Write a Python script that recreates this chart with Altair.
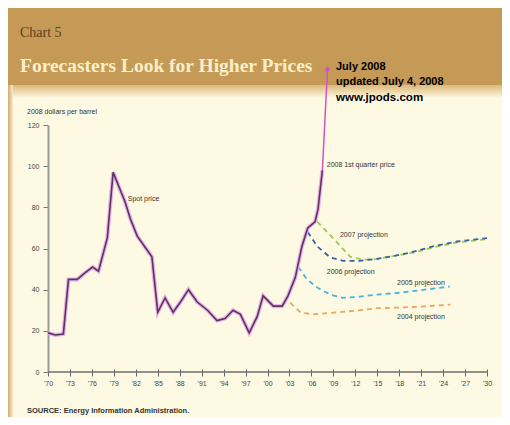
import altair as alt
import pandas as pd

# ---------------- data ----------------
spot_years = [1970.0, 1971.0, 1972.1, 1972.8, 1974.0, 1975.0, 1976.1, 1976.9, 1978.1, 1978.9,
              1980.5, 1981.3, 1982.2, 1983.2, 1984.2, 1985.0, 1986.0, 1987.1, 1988.1, 1989.2,
              1990.4, 1991.8, 1993.1, 1994.2, 1995.3, 1996.3, 1997.5, 1998.6, 1999.4, 2000.8,
              2002.0, 2002.8, 2003.8, 2004.7, 2005.5, 2006.5, 2006.9, 2007.5]
spot_values = [19, 18, 18.5, 45, 45, 48, 51, 49, 65, 97,
               83, 74, 66, 61, 56, 29, 36, 29, 34, 40,
               34, 30, 25, 26, 30, 28, 19, 27, 37, 32,
               32, 37, 46, 61, 70, 73, 79, 98]

jul08_years = [2007.5, 2008.2]
jul08_values = [98, 147]

p2007_years = [2006.8, 2009.5, 2011.3, 2013.1, 2015.0, 2017.5, 2020.0, 2022.6, 2025.9, 2030.0]
p2007_values = [73, 63, 56, 54.5, 55, 56.5, 58, 60.5, 63, 64.5]
p2006_years = [2005.5, 2006.8, 2008.6, 2010.3, 2012.6, 2015.0, 2017.5, 2019.5, 2022.6, 2025.9, 2030.0]
p2006_values = [68, 61, 55.6, 54, 54, 55, 56.5, 58, 61, 63.4, 65]
p2005_years = [2004.2, 2005.4, 2006.8, 2008.6, 2010.3, 2012.6, 2015.0, 2018.0, 2021.5, 2024.9]
p2005_values = [51, 45, 41, 37.6, 36, 36.6, 37.6, 38.5, 40, 41.5]
p2004_years = [2003.1, 2004.5, 2006.2, 2009.0, 2012.6, 2015.0, 2018.0, 2020.5, 2025.0]
p2004_values = [33.7, 29, 28, 28.8, 30, 31, 31.3, 31.7, 32.7]

series_names = ["2007", "2006", "2005", "2004"]
series_colors = ["#9ccb52", "#3563a8", "#45b2e2", "#f2a456"]

label_texts = ["Spot price", "2008 1st quarter price", "2007 projection",
               "2006 projection", "2005 projection", "2004 projection"]
label_years = [1980.9, 2008.1, 2009.9, 2008.1, 2017.7, 2017.7]
label_values = [84.0, 100.6, 66.6, 48.6, 43.2, 26.7]

tick_years = [1970, 1973, 1976, 1979, 1982, 1985, 1988, 1991, 1994, 1997, 2000,
              2003, 2006, 2009, 2012, 2015, 2018, 2021, 2024, 2027, 2030]
tick_labels = ["'70", "'73", "'76", "'79", "'82", "'85", "'88", "'91", "'94", "'97", "'00",
               "'03", "'06", "'09", "'12", "'15", "'18", "'21", "'24", "'27", "'30"]
y_ticks = [0, 20, 40, 60, 80, 100, 120]

# ---------------- tables ----------------
spot = pd.DataFrame({"year": spot_years, "price": spot_values})
jul08 = pd.DataFrame({"year": jul08_years, "price": jul08_values})
proj_rows = []
for name, ys_, vs in zip(series_names,
                         [p2007_years, p2006_years, p2005_years, p2004_years],
                         [p2007_values, p2006_values, p2005_values, p2004_values]):
    for y, v in zip(ys_, vs):
        proj_rows.append({"series": name, "year": y, "price": v})
proj = pd.DataFrame(proj_rows)
labels = pd.DataFrame({"text": label_texts, "year": label_years, "price": label_values})

label_expr = ""
for yv, lab in zip(tick_years, tick_labels):
    label_expr += f'datum.value == {yv} ? "{lab}" : '
label_expr += '""'

W, H = 439, 247
PL, PT, PR, PB = 40, 117, 15, 45

xs = alt.Scale(domain=[1970, 2030], nice=False, zero=False)
ys = alt.Scale(domain=[0, 120], nice=False)

X = alt.X("year:Q", scale=xs, title=None,
          axis=alt.Axis(values=tick_years, tickCount=len(tick_years) + 5,
                        labelExpr=label_expr, grid=False, domain=False,
                        offset=-3, tickSize=7, tickColor="#666666", tickWidth=1,
                        labelFontSize=7, labelColor="#444444", labelFont="Liberation Sans",
                        labelPadding=3, labelOverlap=False, labelFlush=False))
Y = alt.Y("price:Q", scale=ys, title=None,
          axis=alt.Axis(values=y_ticks, tickCount=len(y_ticks) + 2,
                        grid=False, domainColor="#9a9a9a", domainWidth=2,
                        tickSize=5, tickColor="#777777", labelFontSize=7,
                        labelColor="#444444", labelFont="Liberation Sans", labelPadding=4,
                        labelOverlap=False, labelFlush=False))

one = pd.DataFrame({"k": [0]})

def deco_rect(x, x2, y, y2, color):
    return alt.Chart(one).mark_rect(color=color, strokeWidth=0).encode(
        x=alt.value(x), x2=alt.value(x2), y=alt.value(y), y2=alt.value(y2))

header = deco_rect(-PL, W + PR, -PT, -40, "#c49a56")
fade = deco_rect(-PL, W + PR, -40, -27, alt.Gradient(
    gradient="linear", x1=0, x2=0, y1=0, y2=1,
    stops=[alt.GradientStop(color="#dcb879", offset=0),
           alt.GradientStop(color="#fdf9e3", offset=1)]))
left_strip = deco_rect(-PL, -35, -40, 292, alt.Gradient(
    gradient="linear", x1=0, x2=1, y1=0, y2=0,
    stops=[alt.GradientStop(color="#d2ab6f", offset=0),
           alt.GradientStop(color="#f7ecd0", offset=1)]))

def deco_text(txt, x, y, size, color, font="Liberation Sans", weight="normal", baseline="alphabetic"):
    return alt.Chart(pd.DataFrame({"t": [txt]})).mark_text(
        align="left", baseline=baseline, fontSize=size, color=color, font=font,
        fontWeight=weight).encode(text="t:N", x=alt.value(x), y=alt.value(y))

t_chart = deco_text("Chart 5", -28, -88, 14, "#5b3f1c", font="Liberation Serif")
t_title = deco_text("Forecasters Look for Higher Prices", -28, -53, 19.5, "#fbefca",
                    font="Liberation Serif", weight="bold")
t_a1 = deco_text("July 2008", 288, -55, 11, "#000000", weight="bold")
t_a2 = deco_text("updated July 4, 2008", 288, -40, 11, "#000000", weight="bold")
t_a3 = deco_text("www.jpods.com", 288, -24, 11.5, "#000000", weight="bold")
t_unit = deco_text("2008 dollars per barrel", -21, -13, 7, "#333333", baseline="middle")
t_src = deco_text("SOURCE: Energy Information Administration.", -21, 286, 7.5, "#333333",
                  weight="bold", baseline="middle")

x_domain = alt.Chart(one).mark_rule(color="#6e6e6e", strokeWidth=1.5).encode(
    x=alt.value(0), x2=alt.value(W + 1), y=alt.value(H))

base_axes = alt.Chart(spot).mark_line(opacity=0).encode(x=X, y=Y)

spot_halo = alt.Chart(spot).mark_line(color="#e9b2e4", strokeWidth=4).encode(x="year:Q", y="price:Q")
spot_line = alt.Chart(spot).mark_line(color="#5a3368", strokeWidth=1.6).encode(x="year:Q", y="price:Q")

proj_lines = alt.Chart(proj).mark_line(strokeDash=[5, 4], strokeWidth=1.8).encode(
    x="year:Q", y="price:Q",
    color=alt.Color("series:N", scale=alt.Scale(domain=series_names, range=series_colors),
                    legend=None),
    order=alt.Order("year:Q"))

jul_line = alt.Chart(jul08).mark_line(color="#d452c9", strokeWidth=1.5, clip=False).encode(
    x="year:Q", y="price:Q")
jul_dot = alt.Chart(jul08.tail(1)).mark_point(color="#d452c9", filled=True, size=22,
                                              opacity=1, clip=False).encode(
    x="year:Q", y="price:Q")

lab_text = alt.Chart(labels).mark_text(align="left", baseline="middle", fontSize=7,
                                       color="#333333", font="Liberation Sans").encode(
    x="year:Q", y="price:Q", text="text:N")

chart = alt.layer(
    header, fade, left_strip, base_axes, x_domain,
    proj_lines, spot_halo, spot_line, jul_line, jul_dot, lab_text,
    t_chart, t_title, t_a1, t_a2, t_a3, t_unit, t_src
).properties(
    width=W, height=H,
    autosize=alt.AutoSizeParams(type="none"),
    padding={"left": PL, "top": PT, "right": PR, "bottom": PB},
    background="#fdf9e3"
).configure_view(stroke=None)

chart.save("out.html", embed_options={"renderer": "svg", "actions": False})
